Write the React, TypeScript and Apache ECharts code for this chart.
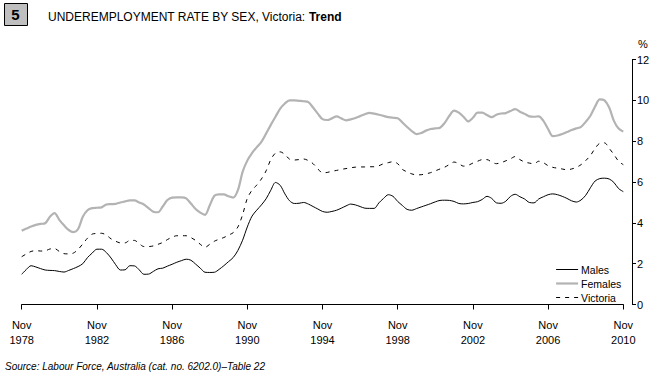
import React, { useEffect, useRef } from "react";
import * as echarts from "echarts";

// Quarterly trend series, Nov 1978 – Nov 2010 (129 quarters)
const startYear = 1978;
const quarterMonths = ["Nov", "Feb", "May", "Aug"];

const males = [
  1.48, 1.72, 1.9, 1.84, 1.76, 1.69, 1.67, 1.66, 1.62, 1.59, 1.67, 1.76, 1.86, 2.0, 2.3, 2.52,
  2.71, 2.71, 2.55, 2.28, 1.95, 1.69, 1.7, 1.9, 1.89, 1.7, 1.48, 1.49, 1.62, 1.75, 1.78, 1.88,
  1.97, 2.07, 2.15, 2.22, 2.17, 1.98, 1.78, 1.58, 1.57, 1.58, 1.72, 1.9, 2.1, 2.3, 2.65, 3.15,
  3.8, 4.33, 4.62, 4.88, 5.18, 5.6, 5.98, 5.84, 5.42, 5.08, 4.95, 4.96, 5.0, 4.92, 4.8, 4.68,
  4.56, 4.52, 4.56, 4.62, 4.72, 4.83, 4.92, 4.88, 4.8, 4.72, 4.71, 4.71, 4.98, 5.2, 5.38, 5.3,
  5.05, 4.85, 4.66, 4.62, 4.7, 4.78, 4.86, 4.94, 5.03, 5.1, 5.11, 5.1, 5.05, 4.95, 4.93, 4.95,
  5.0, 5.04, 5.15, 5.3, 5.2, 4.98, 4.96, 5.06, 5.3, 5.4, 5.28, 5.17, 5.0, 4.98, 5.17, 5.28,
  5.38, 5.42, 5.38, 5.3, 5.2, 5.08, 5.02, 5.12, 5.35, 5.72, 6.05, 6.17, 6.19, 6.15, 5.98, 5.68,
  5.53,
];

const females = [
  3.62, 3.72, 3.82, 3.9, 3.95, 3.98, 4.3, 4.48, 4.15, 3.88, 3.65, 3.55, 3.7, 4.3, 4.62, 4.72,
  4.74, 4.76, 4.9, 4.92, 4.93, 5.0, 5.05, 5.1, 5.1, 5.0, 4.9, 4.72, 4.55, 4.52, 4.8, 5.12,
  5.24, 5.25, 5.25, 5.2, 4.95, 4.68, 4.5, 4.39, 4.85, 5.33, 5.4, 5.4, 5.3, 5.24, 5.6, 6.5,
  7.05, 7.42, 7.7, 7.97, 8.38, 8.8, 9.2, 9.6, 9.85, 10.0, 10.0, 9.98, 9.96, 9.92, 9.65, 9.35,
  9.08, 9.04, 9.12, 9.22, 9.12, 9.02, 9.07, 9.14, 9.23, 9.32, 9.39, 9.35, 9.3, 9.24, 9.18, 9.15,
  9.13, 8.92, 8.7, 8.5, 8.35, 8.4, 8.52, 8.6, 8.63, 8.66, 8.9, 9.25, 9.5, 9.4, 9.2, 8.97,
  9.15, 9.4, 9.4, 9.28, 9.18, 9.3, 9.36, 9.38, 9.48, 9.57, 9.45, 9.34, 9.22, 9.2, 9.22, 9.0,
  8.6, 8.25, 8.28, 8.35, 8.45, 8.55, 8.63, 8.7, 8.95, 9.25, 9.7, 10.05, 10.0, 9.65, 9.0, 8.62,
  8.47,
];

const victoria = [
  2.34, 2.48, 2.6, 2.64, 2.62, 2.63, 2.72, 2.74, 2.6, 2.49, 2.48, 2.52, 2.7, 2.97, 3.25, 3.45,
  3.48, 3.49, 3.4, 3.22, 3.1, 3.02, 3.02, 3.14, 3.14, 2.98, 2.84, 2.84, 2.87, 2.95, 3.04, 3.18,
  3.3, 3.37, 3.37, 3.37, 3.28, 3.14, 2.95, 2.8, 2.95, 3.1, 3.2, 3.28, 3.4, 3.52, 3.8, 4.4,
  5.2, 5.6, 5.85, 6.15, 6.55, 7.1, 7.42, 7.48, 7.35, 7.12, 7.08, 7.1, 7.13, 7.05, 6.9, 6.65,
  6.45, 6.47, 6.53, 6.57, 6.62, 6.66, 6.7, 6.73, 6.74, 6.74, 6.75, 6.75, 6.8, 6.9, 6.95, 7.0,
  6.9, 6.62, 6.5, 6.4, 6.35, 6.36, 6.4, 6.46, 6.55, 6.64, 6.73, 6.86, 6.98, 6.9, 6.78, 6.82,
  6.93, 7.02, 7.1, 7.1, 6.98, 6.9, 6.95, 7.04, 7.14, 7.25, 7.1, 6.98, 6.93, 6.89, 7.02, 6.95,
  6.8, 6.72, 6.68, 6.64, 6.6, 6.64, 6.72, 6.85, 7.05, 7.3, 7.65, 7.9, 7.92, 7.65, 7.35, 7.02,
  6.85,
];

const categories: string[] = males.map((_, i) => {
  const m = quarterMonths[i % 4];
  const y = startYear + Math.floor(i / 4) + (i % 4 === 0 ? 0 : 1);
  return `${m} ${y}`;
});

const yTicks = { min: 0, max: 12, interval: 2 };

const FONT = "'Liberation Sans', Arial, sans-serif";

export default function App() {
  const ref = useRef<HTMLDivElement>(null);
  useEffect(() => {
    if (!ref.current) return;
    const chart = echarts.init(ref.current, undefined, { renderer: "svg" });
    chart.setOption({
      animation: false,
      backgroundColor: "#ffffff",
      textStyle: { fontFamily: FONT },
      title: {
        text: "{n|UNDEREMPLOYMENT RATE BY SEX, Victoria: }{b|Trend}",
        left: 48,
        top: 11,
        padding: 0,
        textStyle: {
          fontWeight: "normal",
          fontSize: 12,
          rich: {
            n: { fontSize: 12, color: "#000", fontWeight: "normal", fontFamily: FONT },
            b: { fontSize: 12, color: "#000", fontWeight: "bold", fontFamily: FONT },
          },
        },
      },
      graphic: [
        {
          type: "rect",
          left: 4,
          top: 3,
          shape: { width: 23, height: 22 },
          style: { fill: "#bfbfbf", stroke: "#000", lineWidth: 1 },
        },
        {
          type: "text",
          x: 15.5,
          y: 14.5,
          style: {
            text: "5",
            fontSize: 15,
            fontWeight: "bold",
            fontFamily: FONT,
            fill: "#000",
            align: "center",
            verticalAlign: "middle",
          },
        },
        {
          type: "text",
          x: 5,
          y: 366,
          style: {
            text: "Source: Labour Force, Australia (cat. no. 6202.0)\u2013Table 22",
            fontSize: 10,
            fontStyle: "italic",
            fontFamily: FONT,
            fill: "#000",
            verticalAlign: "middle",
          },
        },
      ],
      legend: {
        orient: "vertical",
        left: 555,
        top: 264,
        itemWidth: 22,
        itemHeight: 10,
        itemGap: 3,
        padding: 0,
        itemStyle: { opacity: 0 },
        textStyle: { fontSize: 10.5, color: "#000", fontFamily: FONT, padding: [0, 0, 0, -2] },
        data: [
          { name: "Males", lineStyle: { width: 1 } },
          { name: "Females", lineStyle: { width: 2.2 } },
          { name: "Victoria", lineStyle: { width: 1 } },
        ],
      },
      grid: { left: 21.7, right: 37.7, top: 59.6, bottom: 73.5, containLabel: false },
      xAxis: {
        type: "category",
        data: categories,
        boundaryGap: false,
        offset: 8,
        axisLine: { lineStyle: { color: "#000", width: 1 } },
        axisTick: { interval: 15, length: 5, lineStyle: { color: "#000" } },
        axisLabel: {
          interval: 15,
          margin: 5,
          fontSize: 11,
          lineHeight: 15,
          color: "#000",
          fontFamily: FONT,
          formatter: (v: string) => v.replace(" ", "\n"),
        },
        splitLine: { show: false },
      },
      yAxis: {
        type: "value",
        position: "right",
        offset: 8.7,
        min: yTicks.min,
        max: yTicks.max,
        interval: yTicks.interval,
        name: "%",
        nameLocation: "end",
        nameGap: 10,
        nameTextStyle: { fontSize: 11, color: "#000", fontFamily: FONT, align: "left", padding: [0, 0, 0, 6] },
        axisLine: { show: true, lineStyle: { color: "#000", width: 1 } },
        axisTick: { show: true, length: 4, lineStyle: { color: "#000" } },
        axisLabel: { margin: 5, fontSize: 11, color: "#000", fontFamily: FONT },
        splitLine: { show: false },
      },
      series: [
        {
          name: "Males",
          type: "line",
          data: males,
          symbol: "none",
          smooth: 0.3,
          lineStyle: { color: "#000", width: 1 },
          itemStyle: { color: "#000" },
          z: 3,
        },
        {
          name: "Females",
          type: "line",
          data: females,
          symbol: "none",
          smooth: 0.3,
          lineStyle: { color: "#b3b3b3", width: 2.2 },
          itemStyle: { color: "#b3b3b3" },
          z: 2,
        },
        {
          name: "Victoria",
          type: "line",
          data: victoria,
          symbol: "none",
          smooth: 0.3,
          lineStyle: { color: "#000", width: 1, type: [4, 5] },
          itemStyle: { color: "#000" },
          z: 3,
        },
      ],
    });
    return () => chart.dispose();
  }, []);
  return (
    <div
      ref={ref}
      style={{ position: "fixed", left: 0, top: 0, width: 661, height: 378, background: "#fff" }}
    />
  );
}
